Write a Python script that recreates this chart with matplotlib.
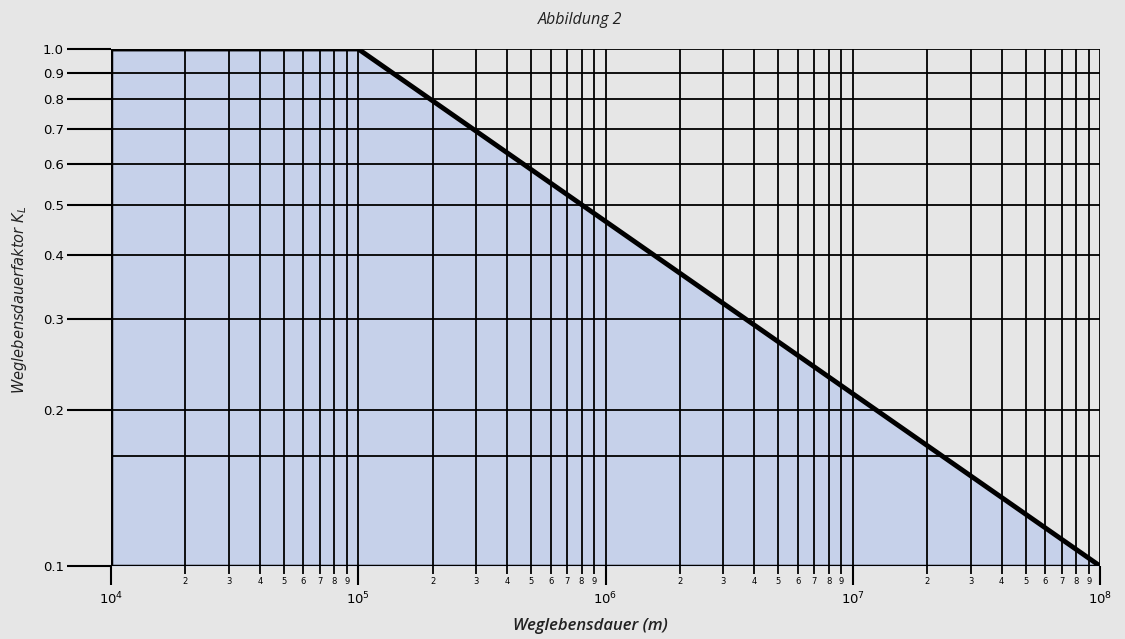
import matplotlib
matplotlib.use("Agg")
import matplotlib.pyplot as plt
from matplotlib.ticker import FixedLocator, FixedFormatter, NullFormatter
import numpy as np

# Data
curve_x = [1e4, 1e5, 1e8]
curve_y = [1.0, 1.0, 0.1]
major_x = [1e4, 1e5, 1e6, 1e7, 1e8]
major_x_labels = ["10$^4$", "10$^5$", "10$^6$", "10$^7$", "10$^8$"]
minor_digits = [2, 3, 4, 5, 6, 7, 8, 9]
y_ticks = [0.1, 0.2, 0.3, 0.4, 0.5, 0.6, 0.7, 0.8, 0.9, 1.0]
y_labels = ["0.1", "0.2", "0.3", "0.4", "0.5", "0.6", "0.7", "0.8", "0.9", "1.0"]
extra_hline = [0.163]

bg = "#e6e6e6"
fill_c = "#c6d1ea"

fig = plt.figure(figsize=(11.25, 6.39), dpi=100, facecolor=bg)
ax = fig.add_axes([111/1125, 1-566/639, (1100-111)/1125, (566-49)/639])
ax.set_facecolor(bg)
ax.set_xscale("log")
ax.set_yscale("log")
ax.set_xlim(1e4, 1e8)
ax.set_ylim(0.1, 1.0)

ax.fill_between(curve_x, curve_y, 0.1, color=fill_c, zorder=1, linewidth=0)

minor_x = [d * 10**e for e in range(4, 8) for d in minor_digits]
for xv in minor_x + major_x:
    ax.axvline(xv, color="black", lw=1.3, zorder=2)
for yv in y_ticks + extra_hline:
    ax.axhline(yv, color="black", lw=1.3, zorder=2)

ax.plot(curve_x, curve_y, color="black", lw=3.5, zorder=4, solid_capstyle="butt")
ax.axvline(1e4, color="black", lw=2.5, zorder=3)
ax.axhline(0.1, color="black", lw=2.5, zorder=3)

for s in ax.spines.values():
    s.set_visible(False)

ax.xaxis.set_major_locator(FixedLocator(major_x))
ax.xaxis.set_major_formatter(FixedFormatter(major_x_labels))
ax.xaxis.set_minor_locator(FixedLocator(minor_x))
ax.xaxis.set_minor_formatter(FixedFormatter([str(d) for e in range(4, 8) for d in minor_digits]))
ax.yaxis.set_major_locator(FixedLocator(y_ticks))
ax.yaxis.set_major_formatter(FixedFormatter(y_labels))
ax.yaxis.set_minor_locator(FixedLocator([]))
ax.yaxis.set_minor_formatter(NullFormatter())

ax.tick_params(axis="x", which="major", length=14, width=1.5, direction="out",
               labelsize=9.5, pad=4, colors="black")
ax.tick_params(axis="x", which="minor", length=6, width=1.3, direction="out",
               labelsize=6, pad=2, colors="black")
ax.tick_params(axis="y", which="major", length=32, width=1.5, direction="out",
               labelsize=9.5, pad=2, colors="black")
for lab in ax.get_yticklabels():
    lab.set_horizontalalignment("right")

fig.text(580/1125, 1-20/639, "Abbildung 2", ha="center", va="center",
         fontsize=11.5, style="italic", family="Open Sans", color="#222222")
fig.text(590/1125, 1-626/639, "Weglebensdauer (m)", ha="center", va="center",
         fontsize=12, style="italic", weight="semibold", family="Open Sans", color="#222222")
fig.text(20/1125, 1-300/639, "Weglebensdauerfaktor K$_L$", ha="center", va="center",
         rotation=90, fontsize=10.5, style="italic", family="Liberation Sans Narrow", color="#222222")

fig.savefig("out.png", dpi=100, facecolor=bg)
